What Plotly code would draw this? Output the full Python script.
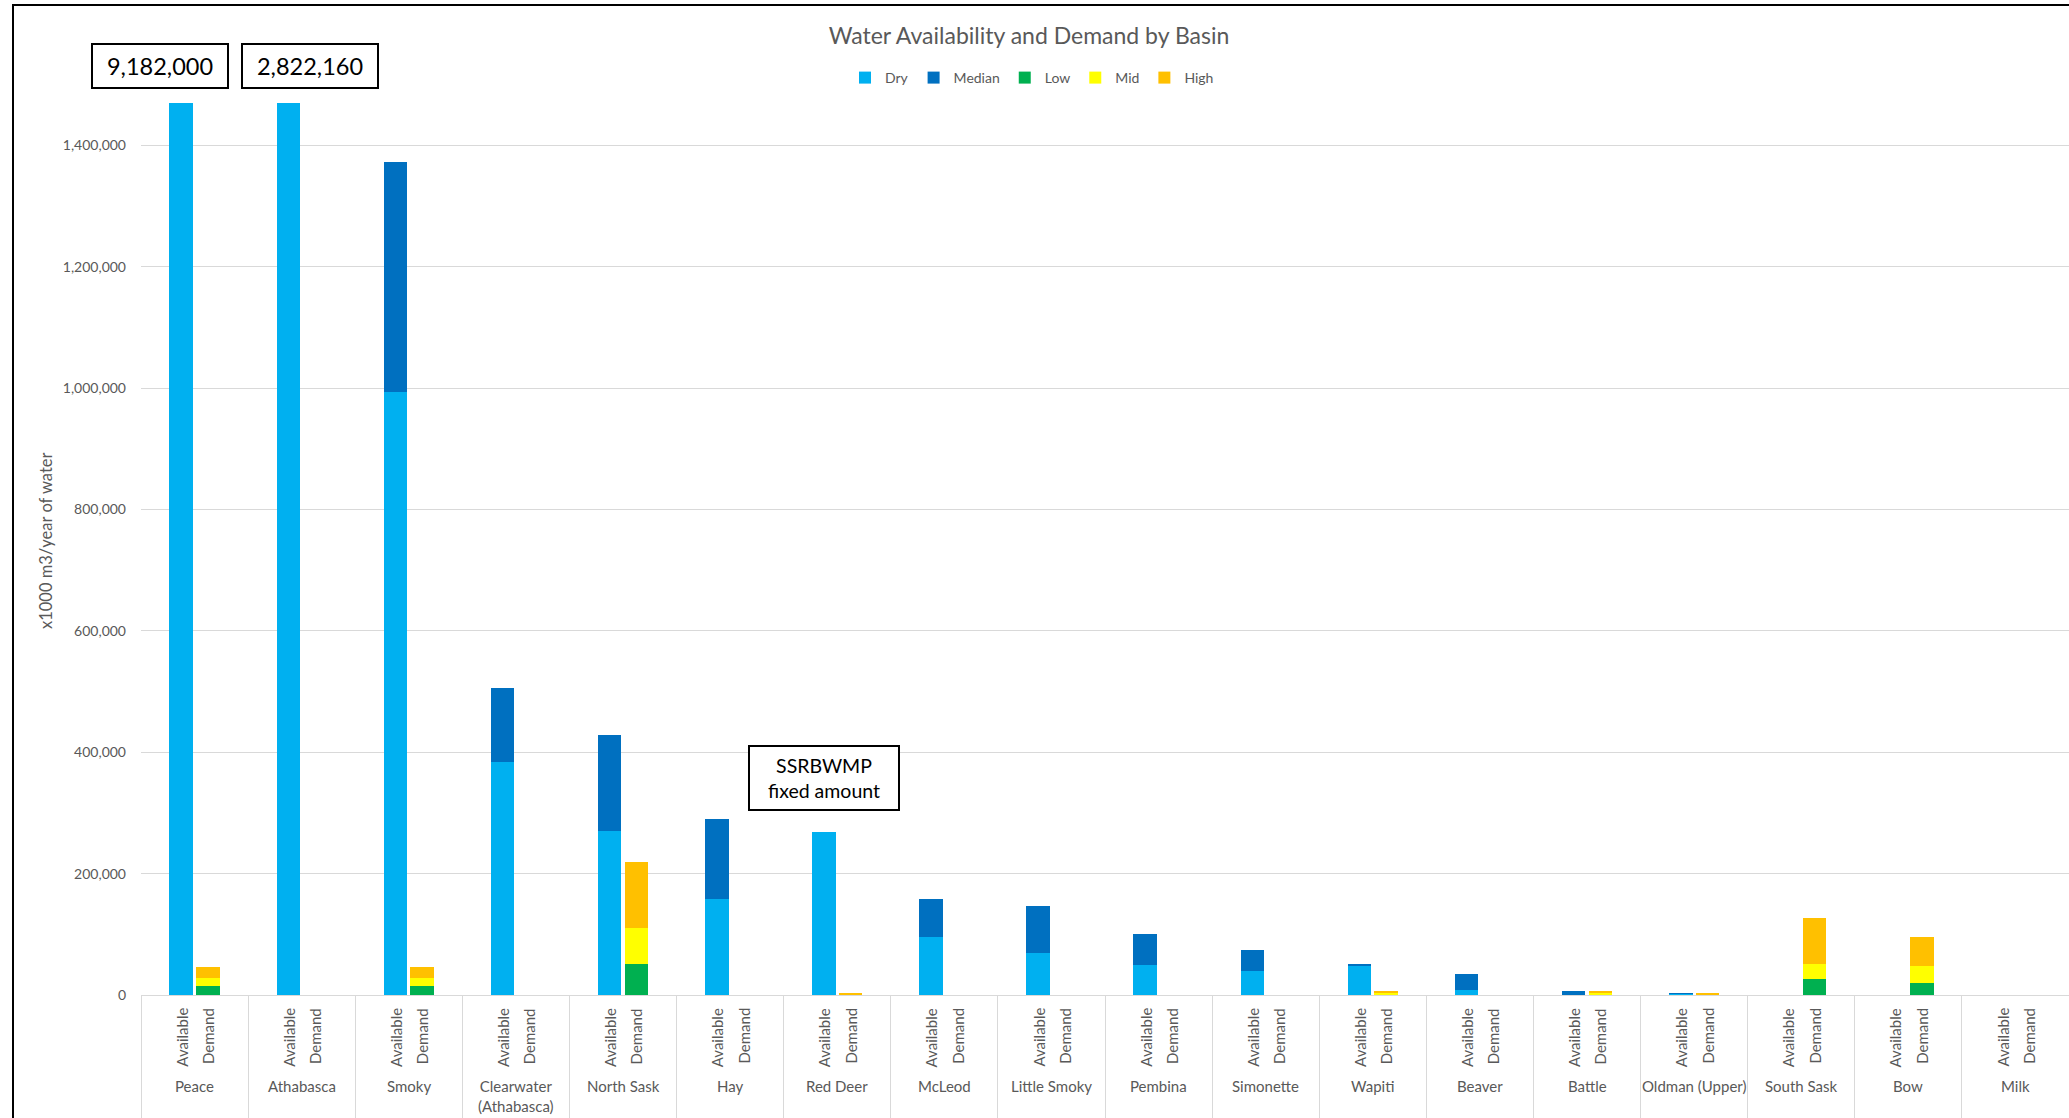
import plotly.graph_objects as go

# ---------------- data ----------------
basins = ["Peace", "Athabasca", "Smoky", "Clearwater<br>(Athabasca)", "North Sask", "Hay",
          "Red Deer", "McLeod", "Little Smoky", "Pembina", "Simonette", "Wapiti",
          "Beaver", "Battle", "Oldman (Upper)", "South Sask", "Bow", "Milk"]
sub_labels = ["Available", "Demand"]

# Available water (x1000 m3/year)
dry    = [9182000, 2822160, 993000, 384000, 271000, 157600, 268500, 95500, 69200,
          49500, 40000, 49000, 9000, 500, 2500, 0, 0, 0]
median = [0, 0, 380000, 122000, 157000, 132800, 0, 62000, 78000,
          51000, 34000, 2500, 25000, 6300, 300, 0, 0, 0]
# Demand (x1000 m3/year)
low    = [15400, 0, 15400, 0, 51000, 0, 0, 0, 0,
          0, 0, 500, 0, 300, 0, 27000, 20500, 0]
mid    = [13200, 0, 13200, 0, 60000, 0, 500, 0, 0,
          0, 0, 3000, 0, 3300, 800, 24500, 26500, 0]
high   = [18200, 0, 18200, 0, 109000, 0, 2000, 0, 0,
          0, 0, 3500, 0, 3000, 2000, 76000, 49000, 0]

y_ticks = [0, 200000, 400000, 600000, 800000, 1000000, 1200000, 1400000]
y_max = 1470000

# ---------------- style ----------------
FONT = "Lato"
GRAY = "#595959"
GRID = "#D9D9D9"
colors = {"Dry": "#00B0F0", "Median": "#0070C0", "Low": "#00B050", "Mid": "#FFFF00", "High": "#FFC000"}

W, H = 2069, 1118
L, R, T, B = 141, 0, 103, 123
plot_w = W - L - R
plot_h = H - T - B

n = len(basins)
idx = list(range(n))
off = 0.125
bw = 0.22
x_av = [i - off for i in idx]
x_de = [i + off for i in idx]

fig = go.Figure()
for name, vals, xs in [("Dry", dry, x_av), ("Median", median, x_av),
                       ("Low", low, x_de), ("Mid", mid, x_de), ("High", high, x_de)]:
    fig.add_trace(go.Bar(name=name, x=xs, y=vals, width=bw,
                         marker=dict(color=colors[name], line=dict(width=0))))

annotations = []
# sub category labels (rotated)
for i in idx:
    for xs, lab in ((x_av[i], sub_labels[0]), (x_de[i], sub_labels[1])):
        annotations.append(dict(x=xs, xref="x", y=-11 / plot_h, yref="paper",
                                text=lab, textangle=-90, showarrow=False,
                                xanchor="center", yanchor="top",
                                font=dict(family=FONT, size=15, color=GRAY)))
    annotations.append(dict(x=i, xref="x", y=-80 / plot_h, yref="paper",
                            text=basins[i], showarrow=False,
                            xanchor="center", yanchor="top",
                            font=dict(family=FONT, size=15, color=GRAY)))

# y-axis title
annotations.append(dict(x=(46 - L) / plot_w, xref="paper", y=(plot_h + T - 541) / plot_h, yref="paper",
                        text="x1000 m3/year of water", textangle=-90, showarrow=False,
                        xanchor="center", yanchor="middle",
                        font=dict(family=FONT, size=16.5, color=GRAY)))

# call-out boxes
box_y = (plot_h + T - 66) / plot_h
annotations.append(dict(x=-0.319, xref="x", y=box_y, yref="paper",
                        text=f"{dry[0]:,}", showarrow=False, xanchor="center", yanchor="middle",
                        width=128, height=36, borderpad=3, borderwidth=2, bordercolor="black",
                        bgcolor="white", font=dict(family=FONT, size=23.5, color="black")))
annotations.append(dict(x=1.078, xref="x", y=box_y, yref="paper",
                        text=f"{dry[1]:,}", showarrow=False, xanchor="center", yanchor="middle",
                        width=128, height=36, borderpad=3, borderwidth=2, bordercolor="black",
                        bgcolor="white", font=dict(family=FONT, size=23.5, color="black")))
annotations.append(dict(x=5.877, xref="x", y=357000, yref="y",
                        text="SSRBWMP<br>fixed amount", showarrow=False,
                        xanchor="center", yanchor="middle",
                        width=142, height=56, borderpad=3, borderwidth=2, bordercolor="black",
                        bgcolor="white", font=dict(family=FONT, size=19.5, color="black")))

# outer frame
shapes = [dict(type="rect", xref="paper", yref="paper",
               x0=(13 - L) / plot_w, x1=1.05, y0=-0.3, y1=(plot_h + T - 5) / plot_h,
               line=dict(color="black", width=2), fillcolor="rgba(0,0,0,0)", layer="above")]

fig.update_layout(
    width=W, height=H,
    margin=dict(l=L, r=R, t=T, b=B, pad=0),
    paper_bgcolor="white", plot_bgcolor="white",
    barmode="stack",
    title=dict(text="Water Availability and Demand by Basin",
               x=1029 / W, xref="container", xanchor="center",
               y=1 - 36 / H, yref="container", yanchor="middle",
               font=dict(family=FONT, size=23, color=GRAY)),
    legend=dict(orientation="h", x=(1032 - L) / plot_w, xanchor="center",
                y=(plot_h + T - 78) / plot_h, yanchor="middle",
                font=dict(family=FONT, size=14, color=GRAY),
                itemwidth=30, traceorder="normal", bgcolor="rgba(0,0,0,0)"),
    showlegend=True,
    annotations=annotations,
    shapes=shapes,
    xaxis=dict(range=[-0.5, n - 0.5], tickmode="array",
               tickvals=[i - 0.5 for i in range(n + 1)],
               ticktext=[""] * (n + 1), showticklabels=False,
               ticks="outside", ticklen=B, tickcolor=GRID, tickwidth=1,
               showgrid=False, zeroline=False,
               showline=True, linecolor=GRID, linewidth=1),
    yaxis=dict(range=[0, y_max], tickmode="array", tickvals=y_ticks,
               tickformat=",", showgrid=True, gridcolor=GRID, gridwidth=1,
               zeroline=False, showline=False, ticks="",
               ticklabelstandoff=14,
               tickfont=dict(family=FONT, size=14, color=GRAY)),
)

fig.write_html("out.html")
